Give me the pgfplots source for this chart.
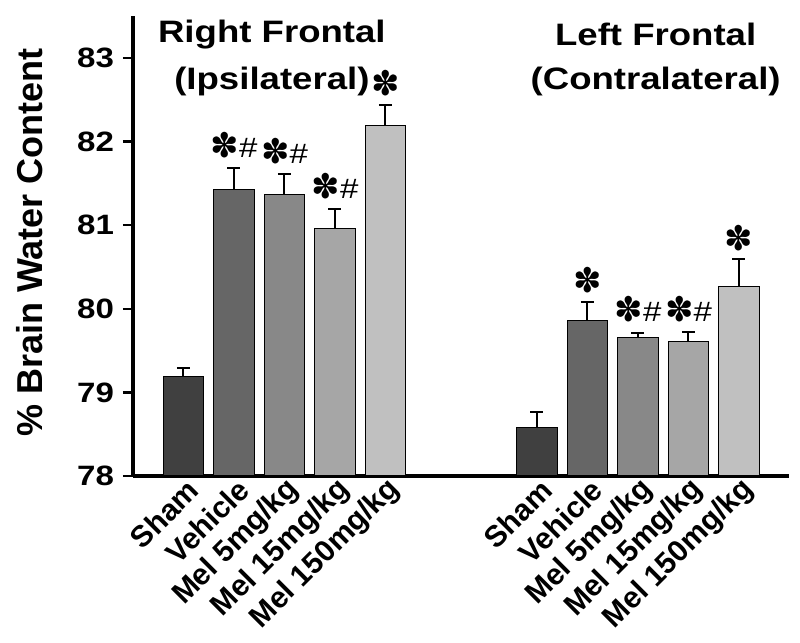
\documentclass[border=0pt]{standalone}
\usepackage{pgfplots}
\pgfplotsset{compat=1.18}
\usepackage{fontspec}
\setmainfont{Liberation Sans}
\newfontfamily\dejavu{DejaVu Sans}
\newfontfamily\widefont{Liberation Sans}[FakeStretch=1.18]
\definecolor{cA}{RGB}{64,64,64}
\definecolor{cB}{RGB}{102,102,102}
\definecolor{cC}{RGB}{136,136,136}
\definecolor{cD}{RGB}{166,166,166}
\definecolor{cE}{RGB}{192,192,192}
\newcommand{\st}{{\dejavu\fontsize{17}{17}\selectfont ✽}}
\newcommand{\hs}{{\widefont\fontsize{14}{14}\selectfont\#}}
\begin{document}
\begin{tikzpicture}
\begin{axis}[name=ax,
  scale only axis, width=328.25pt, height=229.9pt,
  xmin=-1, xmax=12, ymin=78, ymax=83.5,
  axis x line=bottom, axis y line=left,
  axis line style={-, line width=1.6pt},
  ytick={78,79,80,81,82,83},
  tick align=outside, major tick length=5pt,
  ytick style={line width=1.2pt, black},
  yticklabel style={font=\widefont\bfseries\fontsize{14}{14}\selectfont, xshift=-1pt},
  /pgf/number format/assume math mode=true,
  xtick={0,1,2,3,4,7,8,9,10,11},
  xticklabels={Sham,Vehicle,Mel 5mg/kg,Mel 15mg/kg,Mel 150mg/kg,Sham,Vehicle,Mel 5mg/kg,Mel 15mg/kg,Mel 150mg/kg},
  xtick style={draw=none},
  xticklabel style={font=\bfseries\fontsize{15}{15}\selectfont, rotate=45, anchor=east, inner sep=1pt, xshift=5pt, yshift=-3pt},
  ylabel={\% Brain Water Content},
  every axis y label/.style={at={(axis description cs:0,0.508)}, xshift=-51.5pt, rotate=90, anchor=center, font=\bfseries\fontsize{18}{18}\selectfont},
  ybar, bar width=0.81,
  every axis plot/.append style={bar shift=0pt, draw=black, line width=0.5pt},
  error bars/y dir=plus, error bars/y explicit,
  error bars/error bar style={line width=1pt, black},
  error bars/error mark options={rotate=90, mark size=3.25pt, line width=1pt, black},
]
\addplot[fill=cA] coordinates {(0,79.196) +- (0,0.09) (7,78.586) +- (0,0.175)};
\addplot[fill=cB] coordinates {(1,81.43) +- (0,0.25) (8,79.866) +- (0,0.22)};
\addplot[fill=cC] coordinates {(2,81.37) +- (0,0.24) (9,79.66) +- (0,0.055)};
\addplot[fill=cD] coordinates {(3,80.96) +- (0,0.23) (10,79.61) +- (0,0.11)};
\addplot[fill=cE] coordinates {(4,82.195) +- (0,0.245) (11,80.265) +- (0,0.325)};

\node[font=\widefont\bfseries\fontsize{15.5}{15.5}\selectfont] at (axis cs:1.75,83.28) {Right Frontal};
\node[font=\widefont\bfseries\fontsize{15.5}{15.5}\selectfont] at (axis cs:1.75,82.72) {(Ipsilateral)};
\node[font=\widefont\bfseries\fontsize{15.5}{15.5}\selectfont] at (axis cs:9.35,83.28) {Left Frontal};
\node[font=\widefont\bfseries\fontsize{15.5}{15.5}\selectfont] at (axis cs:9.35,82.72) {(Contralateral)};

\node[anchor=south, inner sep=0pt, yshift=5pt] at (axis cs:1,81.68) {\st\hs};
\node[anchor=south, inner sep=0pt, yshift=5pt] at (axis cs:2,81.61) {\st\hs};
\node[anchor=south, inner sep=0pt, yshift=5pt] at (axis cs:3,81.19) {\st\hs};
\node[anchor=south, inner sep=0pt, yshift=4pt] at (axis cs:4,82.44) {\st};
\node[anchor=south, inner sep=0pt, yshift=4pt] at (axis cs:8,80.086) {\st};
\node[anchor=south, inner sep=0pt, yshift=5pt] at (axis cs:9,79.715) {\st\hs};
\node[anchor=south, inner sep=0pt, yshift=5pt] at (axis cs:10,79.72) {\st\hs};
\node[anchor=south, inner sep=0pt, yshift=4pt] at (axis cs:11,80.59) {\st};
\end{axis}
\pgfresetboundingbox
\path[use as bounding box] ([shift={(-66.5pt,-83.5pt)}]ax.south west) rectangle ([shift={(333.5pt,238pt)}]ax.south west);
\end{tikzpicture}
\end{document}
